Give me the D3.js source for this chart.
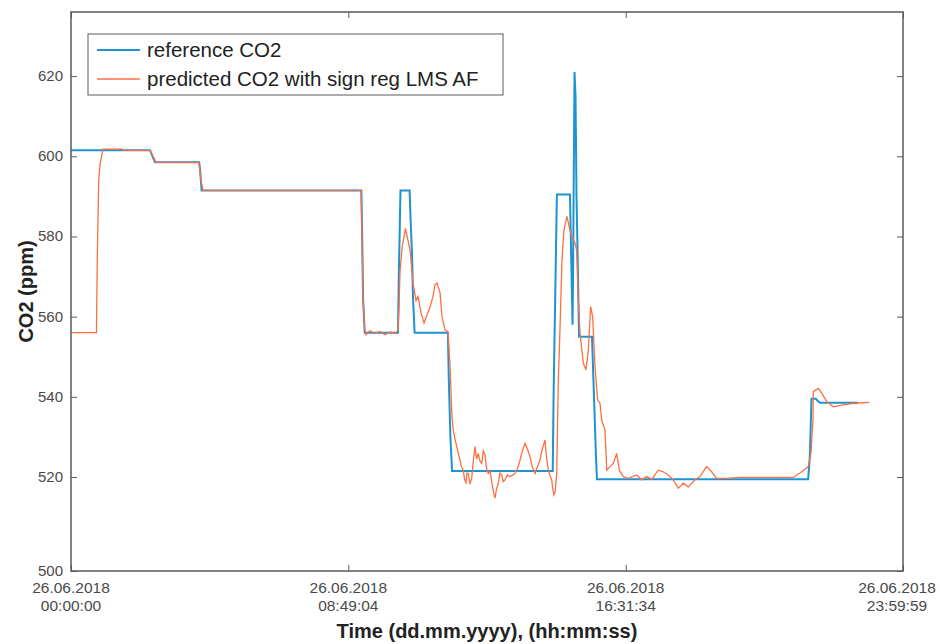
<!DOCTYPE html>
<html lang="en">
    <head>
        <meta charset="utf-8">
        <title>CO2 prediction</title>
        <script src="https://d3js.org/d3.v7.min.js"></script>
        <style type="text/css">
            body { margin: 0; background: #fff; }
            text { font-family: "Liberation Sans", Arial, sans-serif; }
        </style>
    </head>
    <body>
        <script>
            // data: x is sample index (0..1000), y is CO2 in ppm
            var referenceCO2 = [
                [0,601.5],[95,601.5],[97,600.5],[101,598.5],[154,598.5],[155,597],[157,591.5],
                [349,591.5],[350,580],[351,565],[353,556],[393,556],[394,570],[396,591.5],
                [407,591.5],[408,585],[410,575],[411,565],[413,556],[453,556],[454,545],
                [456,530],[458,521.5],[579,521.5],[580,540],[582,565],[584,590.5],[599.7,590.5],
                [601,577],[602.8,558],[603.4,570],[605.2,621],[606.4,615],[607.6,590],[609.4,570],
                [610.6,555],[626.2,555],[628.6,540],[631,525],[632.2,519.5],[886,519.5],
                [888,525],[890,539.5],[895,539.5],[900,538.5],[946,538.5]
            ];

            var predictedCO2 = [
                [0,556],[30.6,556],[31.6,575],[33.3,594],[34.9,598],[38.5,601.8],[61.3,601.8],
                [62.5,601.5],[95,601.5],[98.6,600],[102.2,598.5],[153.8,598.5],[156.2,594],
                [158.7,591.5],[348.6,591.5],[349.8,580],[351,565],[352.8,557],[354.6,555.5],
                [359.4,556.5],[365.4,555.8],[371.4,556.3],[377.4,555.5],[383.4,556.2],[389.4,555.8],
                [393,556.5],[394.2,562],[395.4,571],[397.8,577],[402,582],[405,579],[407.5,576.6],
                [411,568.4],[414.7,564],[417.1,565],[420.7,561],[424.3,558.4],[427.9,560.4],
                [431.5,562.4],[435.1,565],[437.5,568],[439.9,568.4],[443.5,566],[445.9,560],
                [449.5,556.7],[453.1,556.2],[455.5,548],[457.9,535],[459.5,531.7],[461.5,529.5],
                [463.6,527.6],[465.5,526],[467.5,524.2],[469.5,522.5],[471.5,521.7],[473,519.5],
                [474.7,518.8],[476,521],[477.5,520.9],[479.5,518.5],[481.6,519.7],[483.5,524],
                [485.6,527.6],[487.5,524.5],[489.5,525.9],[491.5,524],[493.6,523.4],[495.5,526.5],
                [497.6,525.5],[499.5,522],[501.5,520.9],[503.5,521.5],[505.6,519.2],[507.5,517],
                [509.6,515.5],[511.5,517.5],[513.6,518.7],[515.5,521],[517.7,520.5],[519.5,519],
                [521.6,519.4],[524.5,520.5],[527.6,520.1],[530.5,520.4],[533.6,520.9],[536.5,522],
                [539.7,524.2],[542.5,526.5],[545.7,528.4],[548.5,527],[551.7,525.1],[554.5,522.5],
                [557.7,520.9],[560.5,522.5],[563.7,524.2],[566.5,527],[569.7,529.2],[571.5,525],
                [573.7,521.7],[575.5,520.5],[577.8,519.4],[579,517.5],[580.5,516.2],[582,517],
                [583.8,520.9],[585.7,544],[587.7,556.7],[590.1,574],
                [592.5,581.6],[596.1,585],[599.7,581.6],[601.8,580],[605.8,578.4],[607.8,576.6],
                [609.8,564],[611.8,555.9],[615.7,548.4],[619,546.7],[621.8,551.7],[624.6,562.5],
                [627,560],[629.8,547.5],[633,539.2],[635.8,538.4],[637.8,534.2],[641.8,531.7],
                [643.9,521.7],[647.8,522.6],[651.8,523.4],[655.9,525.9],[659,521.7],[663.8,520.1],
                [669.8,519.7],[679.9,520.5],[685.9,519.4],[691.9,520.1],[697.9,519.5],[705.9,521.7],
                [711.9,521.3],[717.9,520.5],[723.9,519.4],[729.9,517.6],[735.9,518.7],[741.9,517.9],
                [750,519.4],[756,520.1],[764,522.6],[770,521.3],[776.1,519.7],[788.1,519.7],
                [804.1,519.9],[868.1,519.9],[878.2,521.3],[886.1,522.6],[889.4,526],[891.8,534.2],
                [892.2,541.3],[898.2,542.1],[902.3,540.9],[908.3,538.8],[916.2,537.5],[928.2,538],
                [940.2,538.4],[959.4,538.6]
            ];

            var xTicks = [0, 333.3, 666.7, 1000];
            var xTickDates = ["26.06.2018", "26.06.2018", "26.06.2018", "26.06.2018"];
            var xTickTimes = ["00:00:00", "08:49:04", "16:31:34", "23:59:59"];
            var yTicks = [500, 520, 540, 560, 580, 600, 620];
            var seriesNames = ["reference CO2", "predicted CO2 with sign reg LMS AF"];
            var seriesColors = ["#1e93d2", "#ff6e40"];

            // layout
            var width = 940, height = 644;
            var plot = { left: 71, top: 12, right: 903, bottom: 571 };
            var axisColor = "#5a5a5a";

            var svg = d3.select("body").append("svg")
                .attr("width", width)
                .attr("height", height);

            var xScale = d3.scaleLinear().domain([0, 1000]).range([plot.left, plot.right]);
            // the picture's lowest band is stretched a bit, hence a piecewise scale
            var yScale = d3.scaleLinear().domain([500, 520, 636]).range([plot.bottom, 477, plot.top]);

            var line = d3.line()
                .x(function(d) { return xScale(d[0]); })
                .y(function(d) { return yScale(d[1]); });

            svg.append("path")
                .datum(referenceCO2)
                .attr("fill", "none")
                .attr("stroke", seriesColors[0])
                .attr("stroke-width", 2)
                .attr("d", line);

            svg.append("path")
                .datum(predictedCO2)
                .attr("fill", "none")
                .attr("stroke", seriesColors[1])
                .attr("stroke-width", 1.3)
                .attr("d", line);

            // box
            svg.append("rect")
                .attr("x", plot.left).attr("y", plot.top)
                .attr("width", plot.right - plot.left)
                .attr("height", plot.bottom - plot.top)
                .attr("fill", "none")
                .attr("stroke", axisColor)
                .attr("stroke-width", 1.5);

            // y axis
            var yAxis = svg.append("g")
                .attr("transform", "translate(" + plot.left + ",0)")
                .call(d3.axisRight(yScale).tickValues(yTicks).tickSize(6).tickFormat(""));
            yAxis.select(".domain").remove();
            yAxis.selectAll("line").attr("stroke", axisColor);

            var yAxisR = svg.append("g")
                .attr("transform", "translate(" + plot.right + ",0)")
                .call(d3.axisLeft(yScale).tickValues(yTicks).tickSize(6).tickFormat(""));
            yAxisR.select(".domain").remove();
            yAxisR.selectAll("line").attr("stroke", axisColor);

            svg.selectAll(".ylab")
                .data(yTicks)
                .enter().append("text")
                .attr("class", "ylab")
                .attr("x", plot.left - 8)
                .attr("y", function(d) { return yScale(d) + 5; })
                .attr("text-anchor", "end")
                .attr("font-size", 15)
                .attr("fill", "#4a4a4a")
                .text(function(d) { return d; });

            // x axis
            var xAxis = svg.append("g")
                .attr("transform", "translate(0," + plot.bottom + ")")
                .call(d3.axisTop(xScale).tickValues(xTicks).tickSize(6).tickFormat(""));
            xAxis.select(".domain").remove();
            xAxis.selectAll("line").attr("stroke", axisColor);

            var xAxisT = svg.append("g")
                .attr("transform", "translate(0," + plot.top + ")")
                .call(d3.axisBottom(xScale).tickValues(xTicks).tickSize(6).tickFormat(""));
            xAxisT.select(".domain").remove();
            xAxisT.selectAll("line").attr("stroke", axisColor);

            // keep the last label inside the page, as in the picture
            function labelX(d) { return Math.min(xScale(d), width - 43); }

            var xLabs = svg.selectAll(".xlab")
                .data(xTicks)
                .enter().append("text")
                .attr("class", "xlab")
                .attr("text-anchor", "middle")
                .attr("font-size", 15.5)
                .attr("fill", "#4a4a4a");
            xLabs.append("tspan")
                .attr("x", labelX)
                .attr("y", plot.bottom + 22)
                .text(function(d, i) { return xTickDates[i]; });
            xLabs.append("tspan")
                .attr("x", labelX)
                .attr("y", plot.bottom + 40)
                .text(function(d, i) { return xTickTimes[i]; });

            // axis titles
            svg.append("text")
                .attr("x", (plot.left + plot.right) / 2)
                .attr("y", 638)
                .attr("text-anchor", "middle")
                .attr("font-size", 20)
                .attr("font-weight", "bold")
                .attr("fill", "#222")
                .text("Time (dd.mm.yyyy), (hh:mm:ss)");

            svg.append("text")
                .attr("transform", "translate(33," + (plot.top + plot.bottom) / 2 + ") rotate(-90)")
                .attr("text-anchor", "middle")
                .attr("font-size", 20)
                .attr("font-weight", "bold")
                .attr("fill", "#222")
                .text("CO2 (ppm)");

            // legend
            var legend = svg.append("g").attr("transform", "translate(88,34)");
            legend.append("rect")
                .attr("width", 415).attr("height", 61)
                .attr("fill", "#fff")
                .attr("stroke", axisColor)
                .attr("stroke-width", 1);

            var items = legend.selectAll(".legend")
                .data(seriesNames)
                .enter().append("g")
                .attr("class", "legend")
                .attr("transform", function(d, i) { return "translate(0," + (16 + i * 29) + ")"; });
            items.append("line")
                .attr("x1", 9).attr("x2", 52)
                .attr("stroke", function(d, i) { return seriesColors[i]; })
                .attr("stroke-width", function(d, i) { return i === 0 ? 2 : 1.3; });
            items.append("text")
                .attr("x", 59)
                .attr("y", 7)
                .attr("font-size", 20.5)
                .attr("fill", "#222")
                .text(function(d) { return d; });
        </script>
    </body>
</html>
